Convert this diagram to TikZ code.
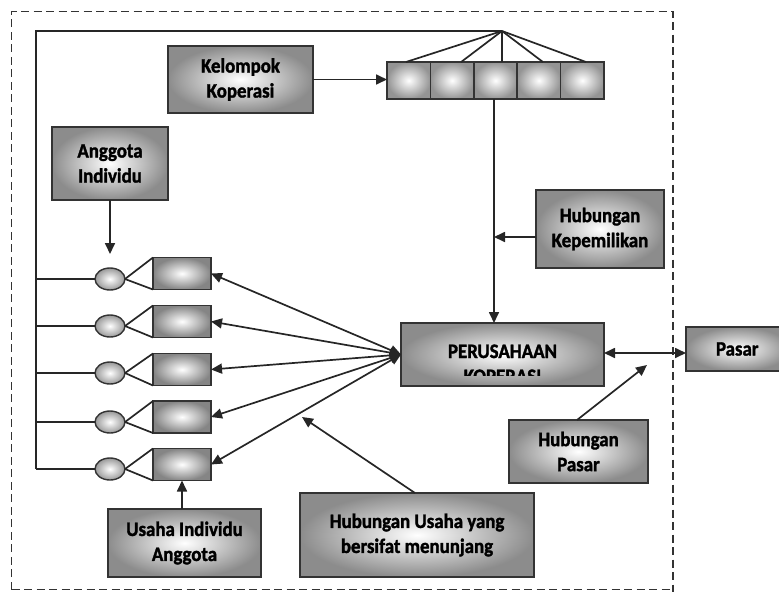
\documentclass[tikz,border=0pt]{standalone}
\usepackage{fontspec}
\setmainfont{Carlito}
\newfontfamily\labfont{Carlito}[FakeStretch=0.92, BoldFeatures={FakeStretch=0.92, FakeBold=1.6}]
\usetikzlibrary{arrows.meta,calc,shapes.geometric}
\tikzset{
  labtext/.style={font=\labfont\bfseries\fontsize{20.5}{25}\selectfont, text=black},
  box/.style={draw=black!80, line width=1.8pt, shading=radial, inner color=white, outer color=black!45,
    labtext, align=center, inner sep=0pt, outer sep=0pt},
  cell/.style={draw=black!80, line width=1.5pt, shading=radial, inner color=white, outer color=black!42,
    minimum width=43.4pt, minimum height=37pt, inner sep=0pt, outer sep=0pt},
  small/.style={draw=black!80, line width=1.6pt, shading=radial, inner color=white, outer color=black!48,
    minimum width=58pt, minimum height=32pt, inner sep=0pt, outer sep=0pt},
  oval/.style={ellipse, draw=black!80, line width=1.4pt, shading=radial, inner color=white, outer color=black!40,
    minimum width=30pt, minimum height=22pt, inner sep=0pt, outer sep=0pt},
  ln/.style={line width=1.7pt, draw=black!85},
  arr/.style={ln, -{Triangle[length=11pt,width=10pt]}},
  darr/.style={ln, {Triangle[length=11pt,width=10pt]}-{Triangle[length=11pt,width=10pt]}},
  frame/.style={line width=1.8pt, draw=black!80, dash pattern=on 8pt off 4.5pt}
}
\begin{document}
\begin{tikzpicture}[x=1pt,y=-1pt]
\useasboundingbox (0,0) rectangle (779,592);
% outer dashed frame
\draw[frame] (11.5,589.5) -- (11.5,11.5) -- (673,11.5) -- (673,592);
\draw[frame] (11.5,589.5) -- (673,589.5);

% boxes
\node[box, minimum width=145pt, minimum height=67pt] (kk) at (240.5,79.5) {Kelompok\\Koperasi};
\node[box, minimum width=116pt, minimum height=73pt] (ai) at (110,163.5) {Anggota\\Individu};
\node[box, minimum width=128pt, minimum height=78pt] (hk) at (600,229) {Hubungan\\Kepemilikan};
\node[box, minimum width=203pt, minimum height=63pt] (pk) at (502.5,354.5) {};
\begin{scope}
  \clip (401,323) rectangle (604,375);
  \node[labtext, anchor=base] (pkt1) at (502.5,358) {PERUSAHAAN};
  \node[labtext, anchor=base] (pkt2) at (502.5,383) {KOPERASI};
\end{scope}
\node[box, minimum width=104pt, minimum height=44pt, text width=104pt, align=left] (pasar) at (738,349) {\hspace*{30pt}Pasar};
\node[box, minimum width=139pt, minimum height=63pt] (hp) at (578.5,451.5) {Hubungan\\Pasar};
\node[box, minimum width=234pt, minimum height=84pt] (hu) at (417,535) {Hubungan Usaha yang\\bersifat menunjang};
\node[box, minimum width=153pt, minimum height=68pt] (ui) at (184.5,543) {Usaha Individu\\Anggota};

% bar of five cells
\node[cell] (b1) at (408.7,80.5) {};
\node[cell] (b2) at (452.1,80.5) {};
\node[cell] (b3) at (495.5,80.5) {};
\node[cell] (b4) at (538.9,80.5) {};
\node[cell] (b5) at (582.3,80.5) {};

% members
\foreach \i/\yo/\yb in {1/279/273.5, 2/326/321.5, 3/373/369.5, 4/422/417, 5/469/464.5} {
  \node[oval] (e\i) at (110,\yo) {};
  \node[small] (s\i) at (182,\yb) {};
  \coordinate (j\i) at (36,\yo);
  \draw[ln] (e\i.east) -- (s\i.north west);
  \draw[ln] (e\i.east) -- (s\i.south west);
  \draw[ln] (j\i) -- (e\i.west);
  \draw[darr] (s\i.east) -- (pk.west);
}

% top line and apex
\coordinate (apex) at (502,31);
\coordinate (tl) at (36,31);
\draw[ln] (apex) -- (tl) -- (j5);
\draw[ln] (apex) -- ([xshift=-2.7pt]b1.north);
\draw[ln] (apex) -- ([xshift=9pt]b2.north);
\draw[ln] (apex) -- ([xshift=6.5pt]b3.north);
\draw[ln] (apex) -- ([xshift=4pt]b4.north);
\draw[ln] (apex) -- ([xshift=3.7pt]b5.north);

% connectors
\coordinate (vtop) at ([xshift=-1.5pt]b3.south);
\coordinate (hkw) at ([yshift=-8pt]hk.west);
\draw[arr] (kk.east) -- (kk.east -| b1.west);
\draw[arr] (vtop) -- (vtop |- pk.north);
\draw[arr] (hkw) -- (hkw -| vtop);
\coordinate (pke) at ([yshift=1.5pt]pk.east);
\draw[darr] (pke) -- (pke -| pasar.west);
\coordinate (hpend) at (647,365);
\draw[arr] ([xshift=-1.5pt]hp.north) -- (hpend);
\coordinate (huend) at (302,417);
\draw[arr] ([xshift=-2pt]hu.north) -- (huend);
\coordinate (aiend) at (110,254);
\draw[arr] (ai.south) -- (aiend);
\draw[arr] (s5.south |- ui.north) -- (s5.south);
\end{tikzpicture}
\end{document}
